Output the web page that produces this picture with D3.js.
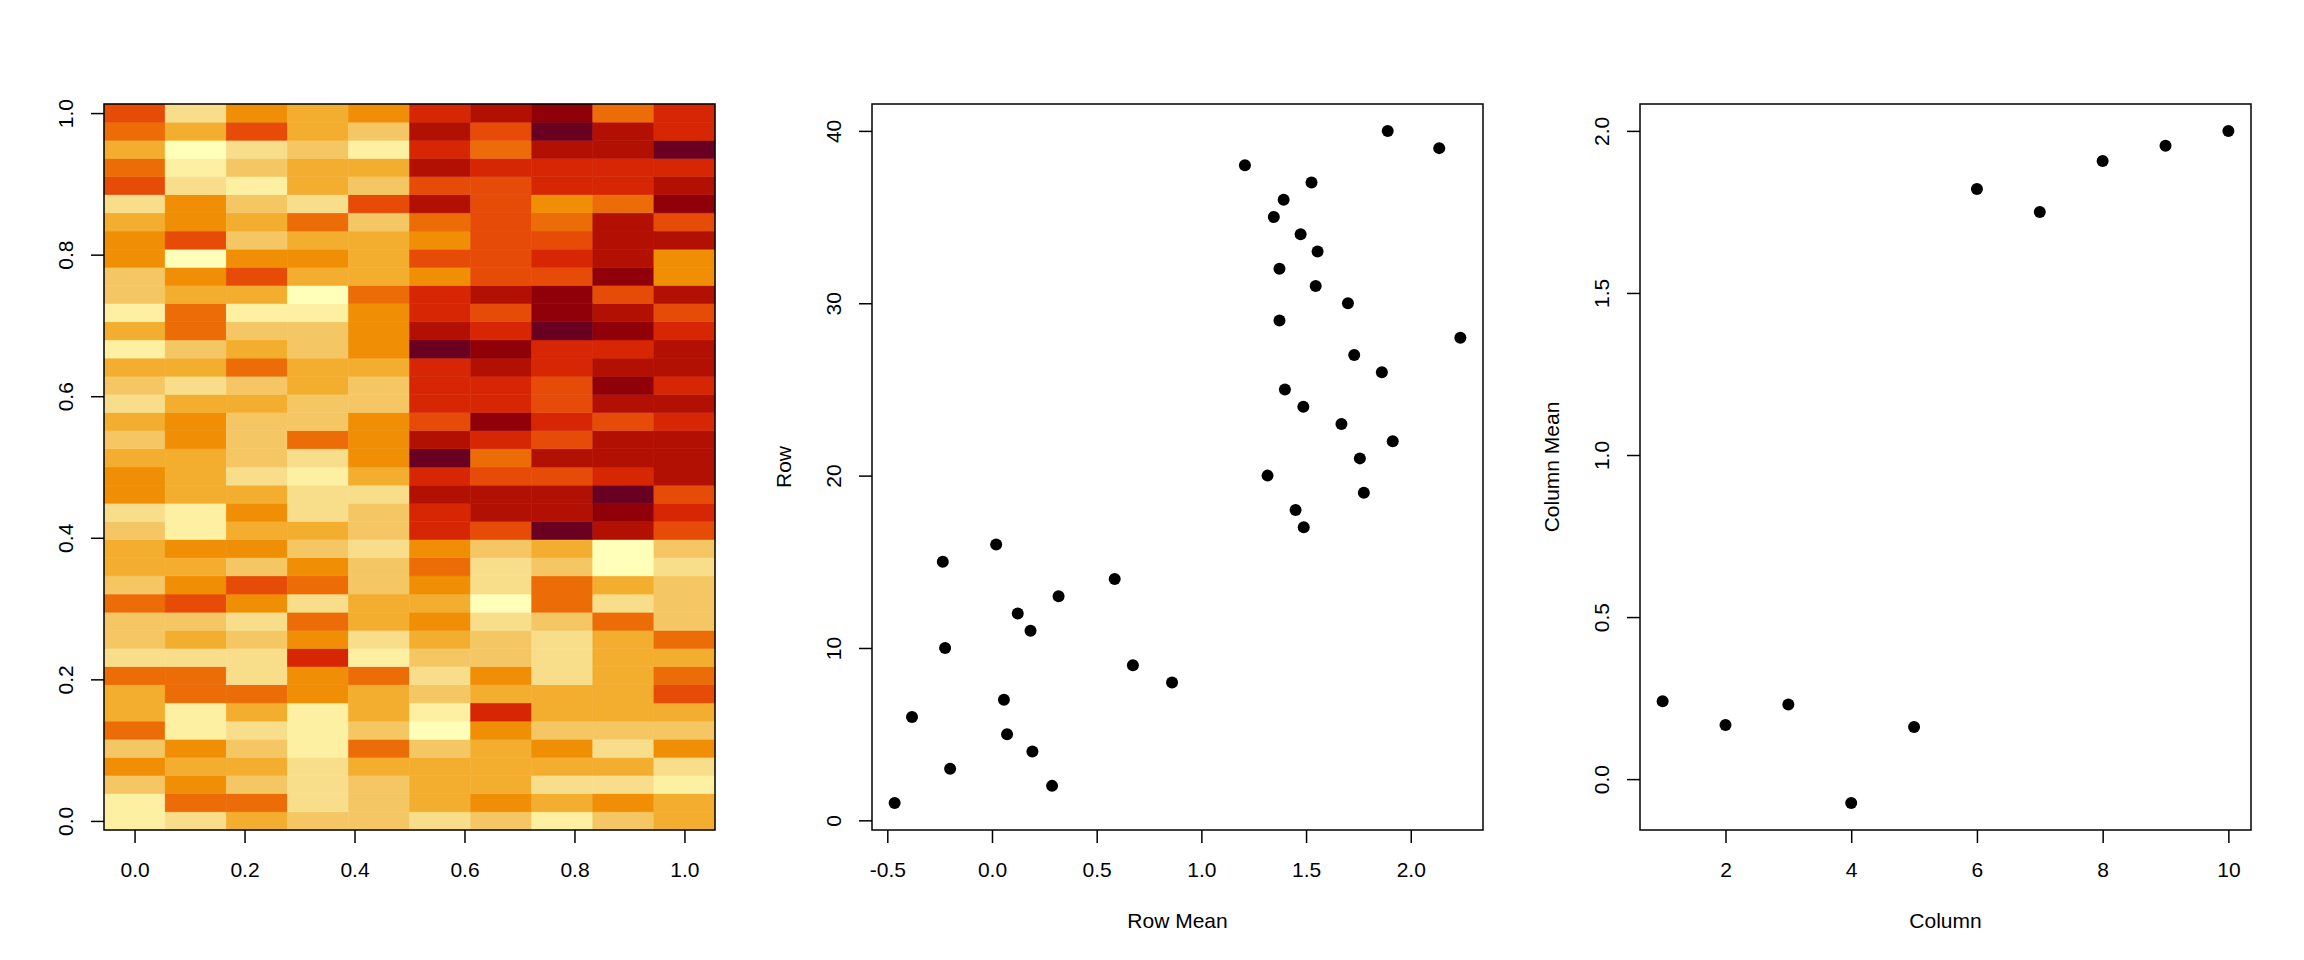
<!DOCTYPE html>
<html>
<head>
<meta charset="utf-8">
<script src="https://cdn.jsdelivr.net/npm/d3@7"></script>
<style>
  body { margin: 0; background: #fff; }
  text { font-family: "Liberation Sans", Arial, Helvetica, sans-serif; font-size: 21px; fill: #000; }
</style>
</head>
<body>
<svg id="chart" width="2304" height="960"></svg>
<script>
// heat levels per row (row 1 = bottom), 1 = lightest .. 12 = darkest, 10 columns each
const heatRows = [
  [2,3,5,4,4,3,4,2,4,5],
  [2,7,7,3,4,5,6,5,6,5],
  [4,6,4,3,4,5,5,3,3,2],
  [6,5,5,3,5,5,5,5,5,3],
  [4,6,4,2,7,4,5,6,3,6],
  [7,2,3,2,4,1,6,4,4,4],
  [5,2,5,2,5,2,9,5,5,5],
  [5,7,7,6,5,4,5,5,5,8],
  [7,7,3,6,7,3,6,3,5,7],
  [3,3,3,9,2,4,4,3,5,5],
  [4,5,4,6,3,5,4,3,5,7],
  [4,4,3,7,5,6,3,4,7,4],
  [7,8,6,3,5,5,1,7,3,4],
  [4,6,8,7,4,6,3,7,5,4],
  [5,5,4,6,4,7,3,4,1,3],
  [5,6,6,4,3,6,4,5,1,4],
  [4,2,5,5,4,9,8,12,10,8],
  [3,2,6,3,4,9,10,10,11,9],
  [6,5,5,3,3,10,10,10,12,8],
  [6,5,3,2,5,9,8,8,9,10],
  [5,5,4,3,6,12,7,10,10,10],
  [4,6,4,7,6,10,9,8,10,10],
  [5,6,4,4,6,8,11,9,8,9],
  [3,5,5,4,4,9,9,8,10,10],
  [4,3,4,5,4,9,9,8,11,9],
  [5,5,7,5,5,9,10,9,10,10],
  [2,4,5,4,6,12,11,9,9,10],
  [5,7,4,4,6,10,9,12,11,9],
  [2,7,2,2,6,9,8,11,10,8],
  [4,5,5,1,7,9,10,11,8,10],
  [4,6,8,5,5,6,8,8,11,6],
  [6,1,6,6,5,8,8,9,10,6],
  [6,8,4,5,5,6,8,8,10,10],
  [5,6,5,7,4,7,8,7,10,8],
  [3,6,4,3,8,10,8,6,7,11],
  [8,3,2,5,4,8,8,9,9,10],
  [7,2,4,5,5,10,9,9,9,9],
  [5,1,3,4,2,9,7,10,10,12],
  [7,5,8,5,4,10,8,12,10,9],
  [8,3,6,5,6,9,10,11,7,9]
];
const heatPalette = ["#FFFFBA","#FDF0A3","#F8DE8A","#F5C764","#F3AE2F","#F08E06",
                     "#EC6D08","#E64B08","#D62604","#B31004","#8F0008","#6A0021"];

const rowMeans = [-0.465,0.287,-0.200,0.193,0.072,-0.382,0.057,0.860,0.673,-0.224,
                  0.184,0.123,0.318,0.586,-0.235,0.020,1.489,1.450,1.776,1.316,
                  1.757,1.914,1.669,1.487,1.399,1.862,1.730,2.237,1.373,1.700,
                  1.546,1.373,1.555,1.474,1.346,1.393,1.526,1.208,2.136,1.890];
const colMeans = [0.240,0.167,0.230,-0.074,0.161,1.821,1.750,1.907,1.954,2.000];

const heatTicks = [0, 0.2, 0.4, 0.6, 0.8, 1.0];
const rowMeanTicks = [-0.5, 0, 0.5, 1.0, 1.5, 2.0];
const rowTicks = [0, 10, 20, 30, 40];
const colTicks = [2, 4, 6, 8, 10];
const colMeanTicks = [0, 0.5, 1.0, 1.5, 2.0];

const svg = d3.select("#chart");
const box = { left: 104, right: 715, top: 104, bottom: 830 };
const panelW = 768;
const fmt1 = d => d.toFixed(1);

// R-style 4% range extension
function pad(ext) {
  const d = (ext[1] - ext[0]) * 0.04;
  return [ext[0] - d, ext[1] + d];
}

function panel(k) {
  return svg.append("g").attr("transform", `translate(${k * panelW},0)`);
}

function drawAxes(g, x, y, xt, yt, xf, yf) {
  const ax = g.append("g").attr("transform", `translate(0,${box.bottom})`)
    .call(d3.axisBottom(x).tickValues(xt).tickFormat(xf).tickSize(13).tickSizeOuter(0));
  const ay = g.append("g").attr("transform", `translate(${box.left},0)`)
    .call(d3.axisLeft(y).tickValues(yt).tickFormat(yf).tickSize(13).tickSizeOuter(0));
  [ax, ay].forEach(a => {
    a.select(".domain").remove();
    a.selectAll("line").attr("stroke", "#000").attr("stroke-width", 1.5);
    a.selectAll("text").attr("font-size", null).attr("font-family", null).attr("fill", "#000");
  });
  ax.selectAll("text").attr("y", 40).attr("dy", "0.35em");
  ay.selectAll("text").attr("x", null).attr("dy", null)
    .attr("text-anchor", "middle")
    .attr("transform", "translate(-38,0) rotate(-90)")
    .attr("dy", "0.35em");
  g.append("rect")
    .attr("x", box.left).attr("y", box.top)
    .attr("width", box.right - box.left).attr("height", box.bottom - box.top)
    .attr("fill", "none").attr("stroke", "#000").attr("stroke-width", 1.5);
}

function titles(g, xl, yl) {
  const cx = (box.left + box.right) / 2, cy = (box.top + box.bottom) / 2;
  if (xl) g.append("text").attr("x", cx).attr("y", box.bottom + 91)
    .attr("dy", "0.35em").attr("text-anchor", "middle").text(xl);
  if (yl) g.append("text").attr("transform", `translate(${box.left - 88},${cy}) rotate(-90)`)
    .attr("dy", "0.35em").attr("text-anchor", "middle").text(yl);
}

// Panel 1: image of the matrix
{
  const g = panel(0);
  const nc = heatRows[0].length, nr = heatRows.length;
  const x = d3.scaleLinear().domain([-0.5 / (nc - 1), 1 + 0.5 / (nc - 1)]).range([box.left, box.right]);
  const y = d3.scaleLinear().domain([-0.5 / (nr - 1), 1 + 0.5 / (nr - 1)]).range([box.bottom, box.top]);
  const color = d3.scaleQuantize().domain([0.5, 12.5]).range(heatPalette);
  const cells = heatRows.flatMap((r, i) => r.map((v, j) => ({ i, j, v })));
  g.append("g").selectAll("rect")
    .data(cells)
    .enter()
    .append("rect")
    .attr("x", d => x((d.j - 0.5) / (nc - 1)))
    .attr("y", d => y((d.i + 0.5) / (nr - 1)))
    .attr("width", d => x((d.j + 0.5) / (nc - 1)) - x((d.j - 0.5) / (nc - 1)))
    .attr("height", d => y((d.i - 0.5) / (nr - 1)) - y((d.i + 0.5) / (nr - 1)))
    .attr("fill", d => color(d.v))
    .attr("stroke", d => color(d.v))
    .attr("stroke-width", 0.5);
  drawAxes(g, x, y, heatTicks, heatTicks, fmt1, fmt1);
}

// Panel 2: row means
{
  const g = panel(1);
  const rows = rowMeans.map((m, i) => ({ m, r: i + 1 }));
  const x = d3.scaleLinear().domain(pad(d3.extent(rowMeans))).range([box.left, box.right]);
  const y = d3.scaleLinear().domain(pad([1, rowMeans.length])).range([box.bottom, box.top]);
  g.selectAll("circle").data(rows).enter().append("circle")
    .attr("cx", d => x(d.m)).attr("cy", d => y(d.r)).attr("r", 6).attr("fill", "#000");
  drawAxes(g, x, y, rowMeanTicks, rowTicks, fmt1, d => d);
  titles(g, "Row Mean", "Row");
}

// Panel 3: column means
{
  const g = panel(2);
  const cols = colMeans.map((m, i) => ({ m, c: i + 1 }));
  const x = d3.scaleLinear().domain(pad([1, colMeans.length])).range([box.left, box.right]);
  const y = d3.scaleLinear().domain(pad(d3.extent(colMeans))).range([box.bottom, box.top]);
  g.selectAll("circle").data(cols).enter().append("circle")
    .attr("cx", d => x(d.c)).attr("cy", d => y(d.m)).attr("r", 6).attr("fill", "#000");
  drawAxes(g, x, y, colTicks, colMeanTicks, d => d, fmt1);
  titles(g, "Column", "Column Mean");
}
</script>
</body>
</html>
